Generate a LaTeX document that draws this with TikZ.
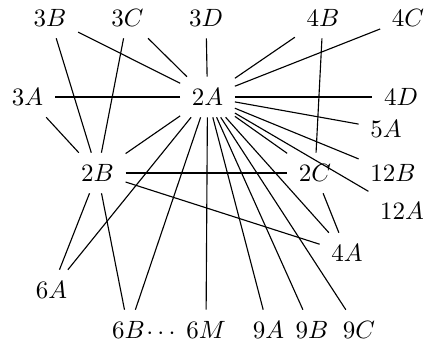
\documentclass[tikz,border=0pt]{standalone}
\begin{document}
\begin{tikzpicture}[x=0.4pt,y=-0.4pt,
  lab/.style={inner sep=4.5pt},
  edge/.style={draw=black, line width=0.45pt}]
\useasboundingbox (0,0) rectangle (434,347);
\node[lab] (3B) at (50,18) {$3B$};
\node[lab] (3C) at (127.5,18) {$3C$};
\node[lab] (3D) at (206,18) {$3D$};
\node[lab] (4B) at (323,18) {$4B$};
\node[lab] (4C) at (408,18) {$4C$};
\node[lab] (3A) at (27.5,97) {$3A$};
\node[lab] (2A) at (207.5,97) {$2A$};
\node[lab] (4D) at (401,97) {$4D$};
\node[lab] (5A) at (386,129) {$5A$};
\node[lab] (2B) at (97.5,173) {$2B$};
\node[lab] (2C) at (315,173) {$2C$};
\node[lab] (12B) at (393,173) {$12B$};
\node[lab] (12A) at (402,211) {$12A$};
\node[lab] (4A) at (347,253) {$4A$};
\node[lab] (6A) at (51.5,290) {$6A$};
\node[lab] (6B) at (128.5,330) {$6B$};
\node[inner sep=0pt, anchor=base] (dots) at (161,339) {$\cdots$};
\node[lab] (6M) at (206,330) {$6M$};
\node[lab] (9A) at (268.5,330) {$9A$};
\node[lab] (9B) at (312,330) {$9B$};
\node[lab] (9C) at (359,330) {$9C$};
\foreach \t in {3A,3B,3C,3D,4B,4C,4D,5A,12B,12A,2C,4A,9C,9B,9A,6M,6B,6A,2B}
  \draw[edge] (2A) -- (\t);
\foreach \t in {3A,3B,3C,2C,4A,6A,6B}
  \draw[edge] (2B) -- (\t);
\draw[edge] (2C) -- (4B);
\draw[edge] (2C) -- (4A);
\end{tikzpicture}
\end{document}
